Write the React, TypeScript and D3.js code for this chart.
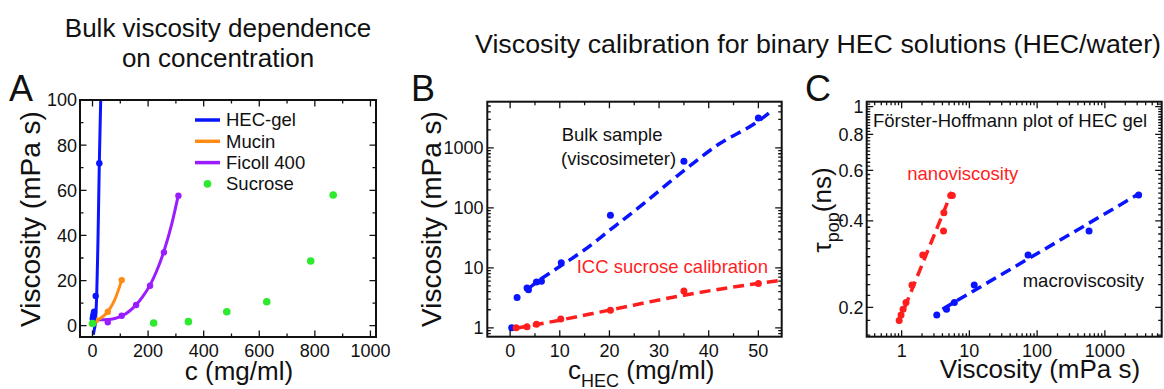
import React from 'react';
import * as d3 from 'd3';

const FONT = "'Liberation Sans', Arial, Helvetica, sans-serif";
const INK = '#111';

// ---------- Panel A: bulk viscosity vs concentration ----------
const hecGelC = [1, 3, 4, 5, 6, 11.5, 24.5];
const hecGelV = [3.2, 4.6, 4.4, 5.8, 6.2, 13.2, 72];
const hecGelFitC = [3, 6, 9, 12, 15, 20, 24.5, 29.5];
const hecGelFitV = [-4, -2, 0, 5, 13, 40, 72, 100];

const mucinC = [12, 55, 105];
const mucinV = [2.4, 6.2, 20.2];
const mucinFitC = [10, 30, 55, 80, 105];
const mucinFitV = [2.3, 3.4, 6.2, 11.5, 20.2];

const ficollC = [3, 55, 105, 157, 207, 257, 309];
const ficollV = [1.5, 1.5, 4.4, 9.2, 17.7, 32.5, 57.6];
const ficollFitC = [3, 30, 55, 80, 105, 130, 157, 180, 207, 230, 257, 285, 309];
const ficollFitV = [2.6, 2.6, 2.7, 3.2, 4.3, 6.2, 9.3, 12.8, 18, 24, 33, 45, 58];

const sucroseC = [0, 220, 345, 483, 627, 785, 866];
const sucroseV = [1, 1.2, 1.8, 6.2, 10.6, 28.7, 57.9];

const legendA = ['HEC-gel', 'Mucin', 'Ficoll 400', 'Sucrose'];
const xTicksA = [0, 200, 400, 600, 800, 1000];
const yTicksA = [0, 20, 40, 60, 80, 100];

// ---------- Panel B: viscosity calibration ----------
const bulkC = [0.3, 1.4, 3.4, 3.7, 5.3, 6.3, 10.3, 20.2, 35, 50];
const bulkV = [1.0, 3.2, 4.6, 4.3, 5.8, 6.0, 12.1, 75.5, 600, 3160];
const bulkFitC = [3.4, 5, 10, 15, 20, 27, 35, 42, 50, 52.4];
const bulkFitV = [4.3, 5.5, 10.5, 20, 42, 120, 420, 1150, 2800, 3980];

const iccC = [1.2, 3.4, 5.3, 10.2, 20.2, 35, 50];
const iccV = [1.0, 1.04, 1.15, 1.4, 1.97, 4.1, 5.5];
const iccFitC = [1.2, 10, 20, 35, 50, 54.7];
const iccFitV = [0.98, 1.34, 1.97, 3.5, 5.5, 6.2];

const xTicksB = [0, 10, 20, 30, 40, 50];
const yTicksB = [1, 10, 100, 1000];

// ---------- Panel C: Förster-Hoffmann plot ----------
const nanoVisc = [0.92, 0.98, 1.05, 1.16, 1.42, 2.05, 4.15, 4.2, 5.3, 5.6];
const nanoTau = [0.18, 0.188, 0.197, 0.208, 0.239, 0.304, 0.369, 0.427, 0.49, 0.49];
const nanoFitVisc = [0.89, 5.5];
const nanoFitTau = [0.176, 0.505];

const macroVisc = [3.3, 4.6, 6.0, 11.8, 73.5, 584, 3150];
const macroTau = [0.188, 0.197, 0.208, 0.239, 0.304, 0.369, 0.492];
const macroFitVisc = [4.0, 3100];
const macroFitTau = [0.197, 0.495];

const xTicksC = [1, 10, 100, 1000];
const yTicksC = [0.2, 0.4, 0.6, 0.8, 1];

const BLUE = '#0a14ff';
const ORANGE = '#ff8a14';
const PURPLE = '#9a1cff';
const GREEN = '#2eea2e';
const RED = '#ff1e1e';

type Scale = (v: number) => number;

function logMinors(lo: number, hi: number): number[] {
  const out: number[] = [];
  for (let e = Math.floor(Math.log10(lo)); e <= Math.ceil(Math.log10(hi)); e++) {
    for (let m = 2; m <= 9; m++) {
      const v = m * Math.pow(10, e);
      if (v > lo && v < hi) out.push(v);
    }
  }
  return out;
}

function Frame({ xs, ys, xMajor, xMinor, yMajor, yMinor }: {
  xs: Scale & { range: () => number[] };
  ys: Scale & { range: () => number[] };
  xMajor: number[]; xMinor: number[]; yMajor: number[]; yMinor: number[];
}) {
  const [x0, x1] = xs.range();
  const [y0, y1] = ys.range(); // y0 bottom, y1 top
  const MAJ = 6.5, MIN = 3.5;
  const segs: string[] = [];
  const add = (list: number[], len: number) => {
    list.forEach((v) => {
      const px = xs(v);
      segs.push(`M${px},${y0}v${-len}M${px},${y1}v${len}`);
    });
  };
  const addY = (list: number[], len: number) => {
    list.forEach((v) => {
      const py = ys(v);
      segs.push(`M${x0},${py}h${len}M${x1},${py}h${-len}`);
    });
  };
  add(xMajor, MAJ); add(xMinor, MIN); addY(yMajor, MAJ); addY(yMinor, MIN);
  return (
    <g>
      <path d={segs.join('')} stroke={INK} strokeWidth={1.3} fill="none" />
      <rect x={x0} y={y1} width={x1 - x0} height={y0 - y1} fill="none" stroke={INK} strokeWidth={2} />
    </g>
  );
}

function XLabels({ xs, ticks, fmt }: { xs: Scale; ticks: number[]; fmt: (v: number) => string }) {
  return (
    <g fontSize={18} textAnchor="middle" fill={INK}>
      {ticks.map((t) => (
        <text key={t} x={xs(t)} y={357}>{fmt(t)}</text>
      ))}
    </g>
  );
}

function YLabels({ ys, ticks, x, fmt }: { ys: Scale; ticks: number[]; x: number; fmt: (v: number) => string }) {
  return (
    <g fontSize={18} textAnchor="end" fill={INK}>
      {ticks.map((t) => (
        <text key={t} x={x} y={ys(t)} dy="0.36em">{fmt(t)}</text>
      ))}
    </g>
  );
}

function Dots({ xs, ys, cx, cy, color, r }: { xs: Scale; ys: Scale; cx: number[]; cy: number[]; color: string; r: number }) {
  return (
    <g fill={color}>
      {cx.map((c, i) => (
        <circle key={i} cx={xs(c)} cy={ys(cy[i])} r={r} />
      ))}
    </g>
  );
}

export default function App() {
  // Panel A scales
  const xA = d3.scaleLinear().domain([-45, 1020]).range([80, 376]);
  const yA = d3.scaleLinear().domain([-5, 100]).range([337, 100]);
  // Panel B scales
  const xB = d3.scaleLinear().domain([-4.6, 54.7]).range([487.3, 781.7]);
  const yB = d3.scaleLog().domain([0.71, 5900]).range([336.7, 101.7]);
  // Panel C scales
  const xC = d3.scaleLog().domain([0.305, 6900]).range([866.7, 1161.7]);
  const yC = d3.scaleLog().domain([0.158, 1.04]).range([336.7, 101.7]);

  const smoothA = d3.line<number>().curve(d3.curveMonotoneX);
  const pathFrom = (xs: Scale, ys: Scale, cx: number[], cy: number[], curve = d3.curveMonotoneX) =>
    d3.line<number>().x((_, i) => xs(cx[i])).y((_, i) => ys(cy[i])).curve(curve)(cx as any) as string;
  void smoothA;

  const fmtPlain = (v: number) => String(v);

  return (
    <svg width={1164} height={389} style={{ position: 'absolute', left: 0, top: 0, background: '#fff' }}
      fontFamily={FONT}>
      <defs>
        <clipPath id="clipA"><rect x={80} y={100} width={296} height={237} /></clipPath>
        <clipPath id="clipB"><rect x={487.3} y={101.7} width={294.4} height={235} /></clipPath>
        <clipPath id="clipC"><rect x={866.7} y={101.7} width={295} height={235} /></clipPath>
      </defs>

      {/* Titles */}
      <g fill={INK} fontSize={26} textAnchor="middle">
        <text x={218} y={37}>Bulk viscosity dependence</text>
        <text x={218} y={67}>on concentration</text>
        <text x={818} y={53} textLength={686} lengthAdjust="spacingAndGlyphs">Viscosity calibration for binary HEC solutions (HEC/water)</text>
      </g>

      {/* Panel letters */}
      <g fill={INK} fontSize={36}>
        <text x={9} y={101}>A</text>
        <text x={411} y={101}>B</text>
        <text x={805} y={101}>C</text>
      </g>

      {/* ---------------- Panel A ---------------- */}
      <g clipPath="url(#clipA)">
        <path d={pathFrom(xA, yA, ficollFitC, ficollFitV)} fill="none" stroke={PURPLE} strokeWidth={3} />
        <path d={pathFrom(xA, yA, mucinFitC, mucinFitV)} fill="none" stroke={ORANGE} strokeWidth={3} />
        <path d={pathFrom(xA, yA, hecGelFitC, hecGelFitV, d3.curveCatmullRom)} fill="none" stroke={BLUE} strokeWidth={3} />
        <Dots xs={xA} ys={yA} cx={ficollC} cy={ficollV} color={PURPLE} r={3.2} />
        <Dots xs={xA} ys={yA} cx={mucinC} cy={mucinV} color={ORANGE} r={3.2} />
        <Dots xs={xA} ys={yA} cx={hecGelC} cy={hecGelV} color={BLUE} r={3.2} />
        <Dots xs={xA} ys={yA} cx={sucroseC} cy={sucroseV} color={GREEN} r={3.8} />
      </g>
      <Frame xs={xA as any} ys={yA as any} xMajor={xTicksA} xMinor={[100, 300, 500, 700, 900]}
        yMajor={yTicksA} yMinor={[10, 30, 50, 70, 90]} />
      <XLabels xs={xA} ticks={xTicksA} fmt={fmtPlain} />
      <YLabels ys={yA} ticks={yTicksA} x={77} fmt={fmtPlain} />
      <g fontSize={18.5} fill={INK}>
        {legendA.map((name, i) => {
          const y = 120 + i * 21.3;
          const col = [BLUE, ORANGE, PURPLE, GREEN][i];
          return (
            <g key={name}>
              {i < 3
                ? <line x1={195} x2={220} y1={y} y2={y} stroke={col} strokeWidth={3.5} />
                : <circle cx={207.5} cy={y} r={3.8} fill={col} />}
              <text x={226} y={y} dy="0.35em">{name}</text>
            </g>
          );
        })}
      </g>
      <text x={239} y={380} fontSize={26} textAnchor="middle" fill={INK}>c (mg/ml)</text>
      <text transform="translate(40,219) rotate(-90)" fontSize={28} textAnchor="middle" fill={INK}>Viscosity (mPa s)</text>

      {/* ---------------- Panel B ---------------- */}
      <g clipPath="url(#clipB)">
        <path d={pathFrom(xB, yB, bulkFitC, bulkFitV)} fill="none" stroke={BLUE} strokeWidth={3.5} strokeDasharray="11 6" />
        <path d={pathFrom(xB, yB, iccFitC, iccFitV)} fill="none" stroke={RED} strokeWidth={3.5} strokeDasharray="11 6" />
        <Dots xs={xB} ys={yB} cx={bulkC} cy={bulkV} color={BLUE} r={3.5} />
        <Dots xs={xB} ys={yB} cx={iccC} cy={iccV} color={RED} r={3.5} />
      </g>
      <Frame xs={xB as any} ys={yB as any} xMajor={xTicksB} xMinor={[5, 15, 25, 35, 45]}
        yMajor={yTicksB} yMinor={logMinors(0.71, 5900)} />
      <XLabels xs={xB} ticks={xTicksB} fmt={fmtPlain} />
      <YLabels ys={yB} ticks={yTicksB} x={483.5} fmt={fmtPlain} />
      <g fontSize={18.5}>
        <text x={561.7} y={141} fill={INK}>Bulk sample</text>
        <text x={561} y={164.5} fill={INK}>(viscosimeter)</text>
        <text x={576.7} y={273} fill={RED}>ICC sucrose calibration</text>
      </g>
      <text x={568} y={379} fontSize={26} fill={INK}>
        <tspan>c</tspan>
        <tspan fontSize={18} dy={8}>HEC</tspan>
        <tspan dy={-8}> (mg/ml)</tspan>
      </text>
      <text transform="translate(441,219) rotate(-90)" fontSize={28} textAnchor="middle" fill={INK}>Viscosity (mPa s)</text>

      {/* ---------------- Panel C ---------------- */}
      <g clipPath="url(#clipC)">
        <path d={pathFrom(xC, yC, nanoFitVisc, nanoFitTau, d3.curveLinear)} fill="none" stroke={RED} strokeWidth={3.5} strokeDasharray="11 6" />
        <path d={pathFrom(xC, yC, macroFitVisc, macroFitTau, d3.curveLinear)} fill="none" stroke={BLUE} strokeWidth={3.5} strokeDasharray="11 6" />
        <Dots xs={xC} ys={yC} cx={nanoVisc} cy={nanoTau} color={RED} r={3.5} />
        <Dots xs={xC} ys={yC} cx={macroVisc} cy={macroTau} color={BLUE} r={3.5} />
      </g>
      <Frame xs={xC as any} ys={yC as any} xMajor={xTicksC} xMinor={logMinors(0.305, 6900)}
        yMajor={yTicksC} yMinor={d3.range(0.16, 1.03, 0.02).filter((v) => !yTicksC.some((t) => Math.abs(t - v) < 1e-6))} />
      <XLabels xs={xC} ticks={xTicksC} fmt={fmtPlain} />
      <YLabels ys={yC} ticks={yTicksC} x={863.5} fmt={fmtPlain} />
      <g fontSize={18.5}>
        <text x={873} y={126.5} fill={INK}>Förster-Hoffmann plot of HEC gel</text>
        <text x={907.3} y={180} fill={RED}>nanoviscosity</text>
        <text x={1022.7} y={286.5} fill={INK}>macroviscosity</text>
      </g>
      <text x={1040} y={378} fontSize={26} textAnchor="middle" fill={INK}>Viscosity (mPa s)</text>
      <text transform="translate(831,210) rotate(-90)" fontSize={26} textAnchor="middle" fill={INK}>
        <tspan>τ</tspan>
        <tspan fontSize={18} dy={8}>pop</tspan>
        <tspan dy={-8}>(ns)</tspan>
      </text>
    </svg>
  );
}
